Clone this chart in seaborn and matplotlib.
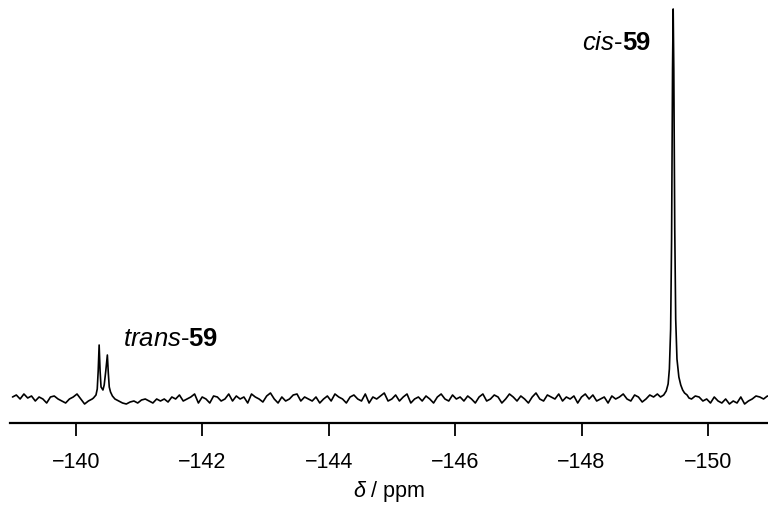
import numpy as np
import pandas as pd
import seaborn as sns
import matplotlib.pyplot as plt

# ---- data (intensity in arbitrary units, baseline = 0) ----
grid_start = -139.0
grid_step = -0.06
baseline_noise = [
    2, 4, 0, 5, 1, 3, -2, 2, 0, -4, 2, 3, 0, -2, -4, 0, 2, 5, 0, -5,
    -2, 0, 2, 0, 0, 0, 2, 0, -2, -4, -5, -3, -2, -4, -1, 0, -2, -4, 0, -2,
    0, -3, 2, 0, 4, -2, 0, 2, 5, -4, 2, 0, -4, 3, 2, -2, 0, 5, -2, 3,
    0, 2, -4, 5, 2, 0, -3, 3, 6, 0, -4, 2, -2, 0, 4, 5, -2, 2, 0, -2,
    2, -4, 0, 3, -2, 5, 2, 0, -4, 2, 4, 0, -2, 5, -4, 2, 0, 3, 6, -2,
    0, 4, -2, 2, 5, -4, 0, 2, -2, 3, 0, -4, 2, 5, 0, -2, 4, 0, 2, -2,
    3, 0, -4, 2, 5, -2, 0, 4, 2, -4, 0, 5, 2, -2, 3, 0, -4, 2, 6, 0,
    -2, 4, 2, 0, 5, -2, 2, 0, 3, -4, 2, 5, 0, 4, -2, 0, 2, -4, 3, 0,
    2, 5, 0, -2, 4, 2, -3, 0, 4, 2, 5, 0, -2, 2, 4, 0, 2, 5, 2, 0,
    3, 2, -2, 0, -4, 2, -2, -4, 0, -5, -2, -4, 2, -5, -2, 0, 3, 2, 0, 3,
    2,
]
trans_ppm = [-140.28, -140.32, -140.34, -140.355, -140.37, -140.385, -140.40,
             -140.43, -140.45, -140.475, -140.50, -140.515, -140.53, -140.55,
             -140.58, -140.62]
trans_int = [1, 4, 10, 28, 54, 28, 12, 9, 14, 28, 44, 26, 12, 7, 3, 0]
cis_ppm = [-149.25, -149.30, -149.34, -149.37, -149.39, -149.41, -149.425,
           -149.44, -149.45, -149.46, -149.475, -149.49, -149.51, -149.54,
           -149.57, -149.60, -149.63, -149.67, -149.70]
cis_int = [2, 4, 8, 15, 30, 70, 160, 330, 390, 330, 170, 80, 40, 22, 14, 9,
           6, 4, 1]
tick_values = [-140, -142, -144, -146, -148, -150]

# ---- assemble spectrum ----
grid_ppm = grid_start + grid_step * np.arange(len(baseline_noise))
noise = np.array(baseline_noise, dtype=float)
keep = np.ones(len(grid_ppm), dtype=bool)
for seg in (trans_ppm, cis_ppm):
    keep &= ~((grid_ppm <= max(seg)) & (grid_ppm >= min(seg)))
ppm = np.concatenate([grid_ppm[keep], trans_ppm, cis_ppm])
inten = np.concatenate([noise[keep], trans_int, cis_int])
df = pd.DataFrame({"ppm": ppm, "intensity": inten}).sort_values("ppm")

# ---- style ----
sns.set_theme(style="white")
plt.rcParams["font.family"] = ["Liberation Sans", "DejaVu Sans"]
plt.rcParams["mathtext.fontset"] = "custom"
plt.rcParams["mathtext.rm"] = "Liberation Sans"
plt.rcParams["mathtext.it"] = "Liberation Sans:italic"
plt.rcParams["mathtext.bf"] = "Liberation Sans:bold"

fig = plt.figure(figsize=(7.68, 5.06), dpi=100)
ax = fig.add_axes([10 / 768, (506 - 424) / 506, 758 / 768, 424 / 506])

sns.lineplot(data=df, x="ppm", y="intensity", color="black", linewidth=1.2,
             ax=ax, sort=True)

ax.set_xlim(-138.96, -150.95)
ax.set_ylim(-24, 400)
ax.set_xticks(tick_values)
ax.tick_params(axis="x", direction="out", length=9.5, width=1.3, pad=11,
               labelsize=15.5, color="black", labelcolor="black", bottom=True)
ax.set_yticks([])
ax.set_ylabel("")
for s in ("top", "left", "right"):
    ax.spines[s].set_visible(False)
ax.spines["bottom"].set_color("black")
ax.spines["bottom"].set_linewidth(1.6)
ax.set_xlabel(r"$\mathit{\delta}$ / ppm", fontsize=15.5, labelpad=4,
              color="black")
ax.patch.set_alpha(0)

ax.text(-140.74, 49, r"$\mathit{trans}$-$\mathbf{59}$", fontsize=18.5,
        ha="left", va="bottom", color="black")
ax.text(-149.11, 357, r"$\mathit{cis}$-$\mathbf{59}$", fontsize=18.5,
        ha="right", va="center", color="black")

fig.savefig("out.png", dpi=100)
